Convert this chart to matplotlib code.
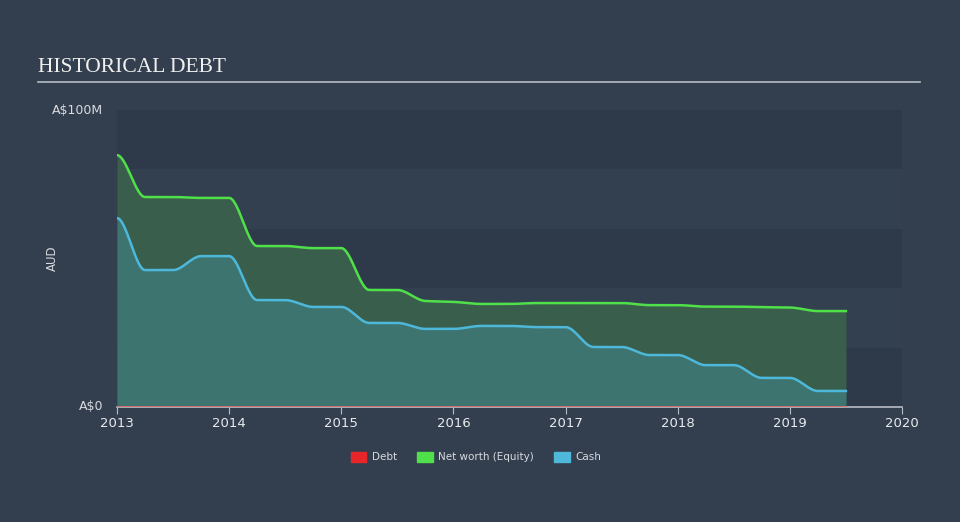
import numpy as np
import matplotlib
matplotlib.use("Agg")
import matplotlib.pyplot as plt
from matplotlib.patches import Patch

# ---- data ----
dates = [2013.0, 2013.25, 2013.5, 2013.75, 2014.0, 2014.25, 2014.5, 2014.75,
         2015.0, 2015.25, 2015.5, 2015.75, 2016.0, 2016.25, 2016.5, 2016.75,
         2017.0, 2017.25, 2017.5, 2017.75, 2018.0, 2018.25, 2018.5, 2018.75,
         2019.0, 2019.25, 2019.5]
equity = [84.8, 70.7, 70.7, 70.4, 70.4, 54.2, 54.2, 53.5,
          53.5, 39.4, 39.4, 35.7, 35.4, 34.7, 34.7, 35.0,
          35.0, 35.0, 35.0, 34.3, 34.3, 33.8, 33.8, 33.6,
          33.5, 32.3, 32.3]
cash = [63.6, 46.1, 46.1, 50.8, 50.8, 36.0, 36.0, 33.7,
        33.7, 28.3, 28.3, 26.3, 26.3, 27.3, 27.3, 26.9,
        26.9, 20.2, 20.2, 17.5, 17.5, 14.1, 14.1, 9.8,
        9.8, 5.4, 5.4]
debt = [0.0] * len(dates)
year_ticks = [2013, 2014, 2015, 2016, 2017, 2018, 2019, 2020]
y_ticks = [0, 100]
y_tick_labels = ["A$0", "A$100M"]


def pchip(x, y, xs):
    x = np.asarray(x, float); y = np.asarray(y, float)
    h = np.diff(x); d = np.diff(y) / h
    n = len(x); m = np.zeros(n)
    for k in range(1, n - 1):
        if d[k - 1] * d[k] > 0:
            w1 = 2 * h[k] + h[k - 1]; w2 = h[k] + 2 * h[k - 1]
            m[k] = (w1 + w2) / (w1 / d[k - 1] + w2 / d[k])
    m[0] = 0; m[-1] = 0
    idx = np.clip(np.searchsorted(x, xs) - 1, 0, n - 2)
    t = (xs - x[idx]) / h[idx]
    h00 = 2 * t**3 - 3 * t**2 + 1; h10 = t**3 - 2 * t**2 + t
    h01 = -2 * t**3 + 3 * t**2; h11 = t**3 - t**2
    return h00 * y[idx] + h10 * h[idx] * m[idx] + h01 * y[idx + 1] + h11 * h[idx] * m[idx + 1]


BG = "#333f4f"
fig = plt.figure(figsize=(9.6, 5.22), dpi=100, facecolor=BG)
ax = fig.add_axes([117 / 960, 1 - 407 / 522, 785 / 960, 297 / 522])
ax.set_facecolor(BG)

# background bands (bottom band darker)
band_cols = ["#2e3a4a", "#334050"]
for i in range(5):
    ax.axhspan(i * 20, (i + 1) * 20, color=band_cols[i % 2], lw=0, zorder=0)

xs = np.linspace(dates[0], dates[-1], 800)
eq_s = pchip(dates, equity, xs)
ca_s = pchip(dates, cash, xs)
de_s = pchip(dates, debt, xs)

ax.fill_between(xs, 0, eq_s, color="#3a5e4c", lw=0, zorder=1)
ax.fill_between(xs, 0, ca_s, color="#3d7470", lw=0, zorder=2)
ax.plot(xs, eq_s, color="#4fe04a", lw=1.8, zorder=3)
ax.plot(xs, ca_s, color="#4db8da", lw=1.8, zorder=3)
ax.plot(xs, de_s, color="#e06060", lw=1.2, zorder=4)

ax.set_xlim(2013, 2020)
ax.set_ylim(0, 100)
for s in ["top", "right", "left"]:
    ax.spines[s].set_visible(False)
ax.spines["bottom"].set_color("#b8bcc4")
ax.spines["bottom"].set_linewidth(1.2)
ax.set_xticks(year_ticks)
ax.set_xticklabels([str(y) for y in year_ticks], fontsize=9.5, color="#e8eaee")
ax.tick_params(axis="x", direction="out", length=5, color="#b8bcc4", pad=2)
ax.set_yticks(y_ticks)
ax.set_yticklabels(y_tick_labels, fontsize=9, color="#d8dade")
ax.tick_params(axis="y", length=0, pad=10)
for lab in ax.get_yticklabels():
    lab.set_verticalalignment("center")
ax.set_ylabel("AUD", color="#d8dade", fontsize=8.5)
ax.yaxis.set_label_coords((59 - 117) / 785, 0.5)

# title
fig.text(38 / 960, 1 - 67 / 522, "HISTORICAL DEBT", fontsize=15.5, color="#f0f0f0",
         family="Liberation Serif", va="center", ha="left")
fig.add_artist(plt.Line2D([38 / 960, 920 / 960], [1 - 82 / 522, 1 - 82 / 522],
                          color="#b8bcc4", lw=1.2))

handles = [Patch(color="#e8262a", label="Debt"),
           Patch(color="#4fe04a", label="Net worth (Equity)"),
           Patch(color="#4db8da", label="Cash")]
leg = fig.legend(handles=handles, loc="center", bbox_to_anchor=(476 / 960, 1 - 457 / 522),
                 ncol=3, frameon=False, fontsize=7.5, labelcolor="#d8dade",
                 handlelength=1.5, handleheight=1.1, columnspacing=1.9, handletextpad=0.55)

fig.savefig("out.png", dpi=100, facecolor=BG)
